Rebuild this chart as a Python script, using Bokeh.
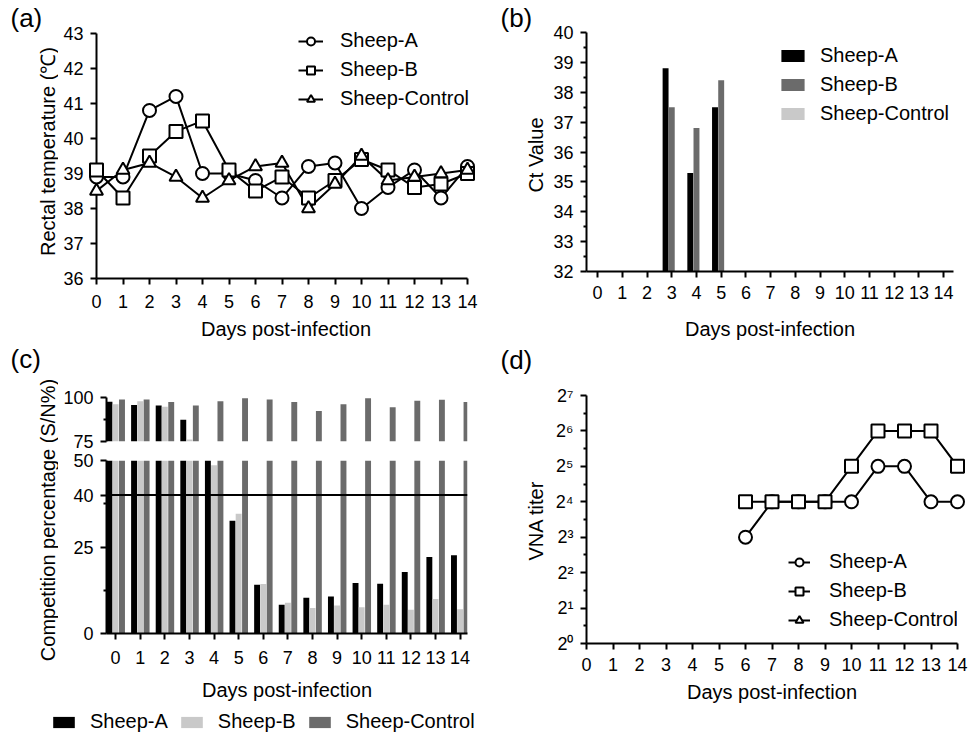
import numpy as np
from bokeh.plotting import figure
from bokeh.layouts import row, column
from bokeh.models import (Range1d, FixedTicker, Legend, LegendItem, Label, Span,
                          ColumnDataSource)
from bokeh.transform import dodge
from bokeh.embed import file_html
from bokeh.resources import INLINE

FONT = "Liberation Sans"
nan = float("nan")

# ---------------- data ----------------
days = list(range(15))

# (a) rectal temperature
temp_a = [38.9, 38.9, 40.8, 41.2, 39.0, 39.0, 38.8, 38.3, 39.2, 39.3, 38.0, 38.6, 39.1, 38.3, 39.2]
temp_b = [39.1, 38.3, 39.5, 40.2, 40.5, 39.1, 38.5, 38.9, 38.3, 38.8, 39.4, 39.1, 38.6, 38.7, 39.0]
temp_c = [38.5, 39.1, 39.3, 38.9, 38.3, 38.8, 39.2, 39.3, 38.0, 38.7, 39.5, 38.8, 38.9, 39.0, 39.1]

# (b) Ct values (NaN = not detected)
ct_a = [nan, nan, nan, 38.8, 35.3, 37.5, nan, nan, nan, nan, nan, nan, nan, nan, nan]
ct_b = [nan, nan, nan, 37.5, 36.8, 38.4, nan, nan, nan, nan, nan, nan, nan, nan, nan]
ct_c = [nan] * 15

# (c) competition percentage (S/N %)
comp_a = [97.6, 95.7, 95.5, 87.4, 62.0, 32.6, 14.1, 8.3, 10.3, 10.7, 14.6, 14.4, 17.8, 22.1, 22.6]
comp_b = [96.2, 97.9, 94.7, 76.1, 48.6, 34.6, 14.3, 8.9, 7.4, 8.1, 7.6, 8.3, 6.9, 10.0, 7.0]
comp_c = [98.9, 98.9, 97.4, 95.5, 97.9, 99.6, 98.9, 97.4, 92.3, 96.2, 99.6, 94.5, 98.1, 98.7, 97.4]
cutoff = 40
break_low, break_high = 50, 75

# (d) VNA titers
vna_days = [6, 7, 8, 9, 10, 11, 12, 13, 14]
vna_a = [8, 16, 16, 16, 16, 32, 32, 16, 16]
vna_b = [16, 16, 16, 16, 32, 64, 64, 64, 32]
vna_c = [nan] * 9
vna_exps = list(range(8))
vna_tick_labels = ["2⁰", "2¹", "2²", "2³", "2⁴", "2⁵", "2⁶", "2⁷"]

series = ["Sheep-A", "Sheep-B", "Sheep-Control"]
xlabel = "Days post-infection"

BLACK = "#000000"
DARK = "#6b6b6b"
LIGHT = "#c9c9c9"

TICK_FS = "18px"
LEG_FS = "20px"
AXL_FS = "20px"
PAN_FS = "26px"


def base_fig(**kw):
    p = figure(output_backend="svg", toolbar_location=None, **kw)
    p.grid.visible = False
    p.outline_line_color = None
    p.background_fill_color = "white"
    p.border_fill_color = "white"
    return p


def strip_fig(w, h):
    return base_fig(width=w, height=h, x_range=Range1d(0, 1), y_range=Range1d(0, 1),
                    min_border=0, x_axis_location=None, y_axis_location=None)


def style_axes(p):
    for ax in p.axis:
        ax.axis_line_width = 2
        ax.axis_line_color = "black"
        ax.major_tick_line_width = 2
        ax.major_tick_line_color = "black"
        ax.major_tick_out = 6
        ax.major_tick_in = 0
        ax.minor_tick_line_width = 2
        ax.minor_tick_line_color = "black"
        ax.minor_tick_out = 3
        ax.minor_tick_in = 0
        ax.major_label_text_font = FONT
        ax.major_label_text_font_size = TICK_FS
        ax.major_label_text_color = "black"
        ax.axis_label_text_font = FONT
        ax.axis_label_text_font_size = AXL_FS
        ax.axis_label_text_font_style = "normal"
        ax.axis_label_text_color = "black"


def add_text(p, text, x, y, size, angle=0.0, align="left"):
    p.add_layout(Label(x=x, y=y, x_units="screen", y_units="screen", text=text,
                       angle=angle, text_font=FONT, text_font_size=size,
                       text_align=align, text_baseline="middle", text_color="black"))


def make_legend(items, x, y, gw, gh, standoff, spacing, orientation="vertical"):
    return Legend(items=items, location=(x, y), orientation=orientation,
                  glyph_width=gw, glyph_height=gh, label_height=20,
                  label_standoff=standoff, spacing=spacing, padding=0, margin=0,
                  border_line_color=None, background_fill_alpha=0,
                  label_text_font=FONT, label_text_font_size=LEG_FS,
                  label_text_color="black")


markers = ["circle", "square", "triangle"]

# ---------------- (a) ----------------
pa_lab = strip_fig(58, 342)
add_text(pa_lab, "(a)", 10, 324.5, PAN_FS)
add_text(pa_lab, "Rectal temperature (℃)", 47, 191, AXL_FS, angle=np.pi / 2, align="center")

# frame a little larger than the axes so the legend is not clipped; axes drawn on bounds
ax_w, ax_h, pad_r, pad_t = 371, 248, 8, 8
pa = base_fig(width=422, height=342,
              x_range=Range1d(0, 14 + pad_r * 14 / ax_w),
              y_range=Range1d(36, 43 + pad_t * 7 / ax_h),
              min_border_left=38, min_border_right=13 - pad_r,
              min_border_top=33 - pad_t, min_border_bottom=61)
items = []
for name, vals, mk in zip(series, [temp_a, temp_b, temp_c], markers):
    l = pa.line(days, vals, line_width=2, line_color="black")
    s = pa.scatter(days, vals, marker=mk, size=13, fill_color="white", line_color="black",
                   line_width=2, level="overlay")
    items.append(LegendItem(label=name, renderers=[l, s]))
pa.xaxis.ticker = FixedTicker(ticks=days)
pa.yaxis.ticker = FixedTicker(ticks=list(range(36, 44)))
pa.xaxis.bounds = (0, 14)
pa.yaxis.bounds = (36, 43)
pa.xaxis.axis_label = xlabel
style_axes(pa)
pa.axis.minor_tick_line_color = None
pa.xaxis.major_label_standoff = 10
pa.yaxis.major_label_standoff = 7
pa.xaxis.axis_label_standoff = 7
pa.add_layout(make_legend(items, 202, 168, 25, 20, 17, 6))

# ---------------- (b) ----------------
pb_lab = strip_fig(68, 342)
add_text(pb_lab, "(b)", 20, 324.5, PAN_FS)
add_text(pb_lab, "Ct Value", 55, 187.5, AXL_FS, angle=np.pi / 2, align="center")

src_b = ColumnDataSource(dict(day=days, a=ct_a, b=ct_b, c=ct_c))
pb = base_fig(width=420, height=342, x_range=Range1d(-0.45, 14.4), y_range=Range1d(32, 40),
              min_border_left=38, min_border_right=15, min_border_top=32, min_border_bottom=65)
rb = []
for col, off, colr in zip(["a", "b", "c"], [-0.25, 0.0, 0.26], [BLACK, DARK, LIGHT]):
    rb.append(pb.vbar(x=dodge("day", off, range=pb.x_range), top=col, width=0.24,
                      source=src_b, fill_color=colr, line_color=None))
pb.xaxis.ticker = FixedTicker(ticks=days)
pb.yaxis.ticker = FixedTicker(ticks=list(range(32, 41)),
                              minor_ticks=[v + 0.5 for v in range(32, 40)])
pb.xaxis.axis_label = xlabel
style_axes(pb)
pb.xaxis.minor_tick_line_color = None
pb.xaxis.major_label_standoff = 8
pb.yaxis.major_label_standoff = 7
pb.xaxis.axis_label_standoff = 16
pb.add_layout(make_legend([LegendItem(label=n, renderers=[r]) for n, r in zip(series, rb)],
                          192, 146, 29, 15, 13, 6))

# ---------------- (c) broken axis: two stacked frames ----------------
pc_lab = strip_fig(58, 361)
add_text(pc_lab, "(c)", 10, 344.5, PAN_FS)
add_text(pc_lab, "Competition percentage (S/N%)", 47, 183.5, AXL_FS, angle=np.pi / 2,
         align="center")

ca, cb, cc = (np.array(v, dtype=float) for v in (comp_a, comp_b, comp_c))
src_c_bot = ColumnDataSource(dict(day=days, a=ca, b=cb, c=cc))
src_c_top = ColumnDataSource(dict(day=days,
                                  a=np.where(ca > break_high, ca, nan),
                                  b=np.where(cb > break_high, cb, nan),
                                  c=np.where(cc > break_high, cc, nan)))
cx = Range1d(-0.37, 14.3)
c_cols = [BLACK, LIGHT, DARK]
c_offs = [-0.25, 0.0, 0.26]

pc_top = base_fig(width=422, height=109, x_range=cx, y_range=Range1d(break_high, 100),
                  min_border_left=48, min_border_right=13, min_border_top=55, min_border_bottom=10,
                  x_axis_location=None)
pc_bot = base_fig(width=422, height=252, x_range=cx, y_range=Range1d(0, break_low),
                  min_border_left=48, min_border_right=13, min_border_top=9, min_border_bottom=64)
for p, src in ((pc_top, src_c_top), (pc_bot, src_c_bot)):
    for col, off, colr in zip(["a", "b", "c"], c_offs, c_cols):
        p.vbar(x=dodge("day", off, range=cx), top=col, width=0.24,
               source=src, fill_color=colr, line_color=None)
pc_bot.add_layout(Span(location=cutoff, dimension="width", line_color="black", line_width=2))
pc_top.yaxis.ticker = FixedTicker(ticks=[75, 100], minor_ticks=[87.5])
pc_bot.yaxis.ticker = FixedTicker(ticks=[0, 25, 40, 50], minor_ticks=[12.5, 37.5])
pc_bot.xaxis.ticker = FixedTicker(ticks=days)
pc_bot.xaxis.axis_label = xlabel
style_axes(pc_top)
style_axes(pc_bot)
pc_bot.xaxis.minor_tick_line_color = None
for p in (pc_top, pc_bot):
    p.yaxis.major_label_standoff = 7
pc_bot.xaxis.major_label_standoff = 11
pc_bot.xaxis.axis_label_standoff = 12

# legend strip for (c)
pc_leg = strip_fig(480, 30)
leg_r = []
for colr in c_cols:
    leg_r.append(pc_leg.vbar(x=[nan], top=[nan], width=0.1, fill_color=colr, line_color=None))
pc_leg.add_layout(make_legend([LegendItem(label=n, renderers=[r]) for n, r in zip(series, leg_r)],
                              50, 0, 27, 14, 13, 10, orientation="horizontal"))

# ---------------- (d) ----------------
pd_lab = strip_fig(68, 391)
add_text(pd_lab, "(d)", 20, 374, PAN_FS)
add_text(pd_lab, "VNA titer", 55, 213, AXL_FS, angle=np.pi / 2, align="center")

pd_ = base_fig(width=420, height=391, x_range=Range1d(0, 14), y_range=Range1d(0, 7),
               min_border_left=38, min_border_right=11, min_border_top=53, min_border_bottom=90)
items_d = []
for name, vals, mk in zip(series, [vna_a, vna_b, vna_c], markers):
    ys = np.log2(np.array(vals, dtype=float))
    l = pd_.line(vna_days, ys, line_width=2, line_color="black")
    s = pd_.scatter(vna_days, ys, marker=mk, size=13, fill_color="white", line_color="black",
                    line_width=2, level="overlay")
    items_d.append(LegendItem(label=name, renderers=[l, s]))
pd_.xaxis.ticker = FixedTicker(ticks=days)
pd_.yaxis.ticker = FixedTicker(ticks=vna_exps, minor_ticks=[e + 0.5 for e in vna_exps[:-1]])
pd_.yaxis.major_label_overrides = {e: t for e, t in zip(vna_exps, vna_tick_labels)}
pd_.xaxis.axis_label = xlabel
style_axes(pd_)
pd_.xaxis.minor_tick_line_color = None
pd_.xaxis.major_label_standoff = 8
pd_.yaxis.major_label_standoff = 7
pd_.xaxis.axis_label_standoff = 7
pd_.add_layout(make_legend(items_d, 202, 12, 22, 20, 19, 6))

left = column(row(pa_lab, column(pa)),
              row(pc_lab, column(pc_top, pc_bot)),
              row(pc_leg))
right = column(row(pb_lab, column(pb)),
               row(pd_lab, column(pd_)))
layout = row(left, right)

open("out.html", "w").write(file_html(layout, INLINE))
